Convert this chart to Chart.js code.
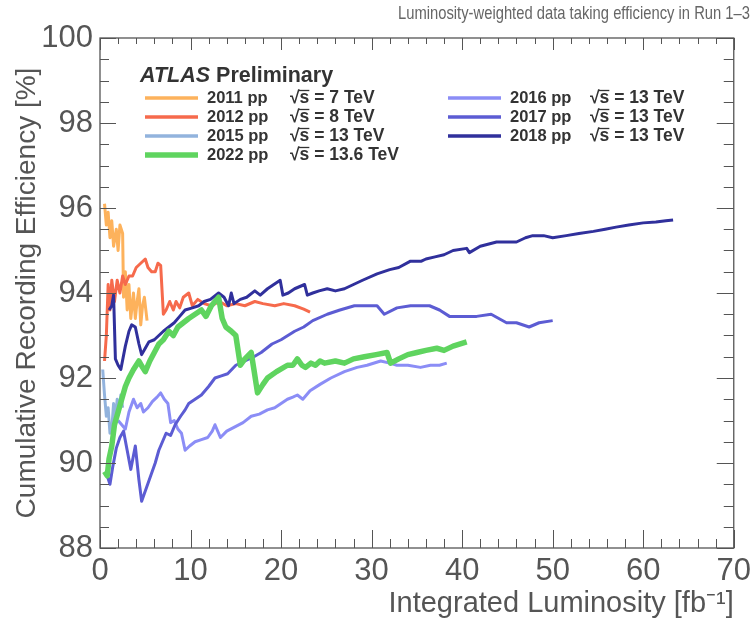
<!DOCTYPE html>
<html>
<head>
<meta charset="utf-8">
<script src="https://cdn.jsdelivr.net/npm/chart.js@4.4.1/dist/chart.umd.min.js"></script>
<style>
  html, body { margin: 0; padding: 0; background: #fff; }
</style>
</head>
<body>
<canvas id="effChart" width="756" height="639"></canvas>
<script>
// x: integrated luminosity [fb-1], y: cumulative recording efficiency [%]
const lumi2011 = [0.5, 0.7, 0.9, 1.1, 1.3, 1.5, 1.8, 2.0, 2.2, 2.5, 2.6, 2.8, 3.0, 3.2, 3.4, 3.6, 3.7, 3.9, 4.1, 4.3, 4.5, 4.7, 4.9, 5.2];
const eff2011  = [96.1, 95.6, 95.9, 95.3, 95.7, 95.1, 95.5, 95.0, 95.6, 95.4, 93.9, 94.5, 93.6, 94.2, 93.4, 93.8, 94.0, 93.4, 93.8, 94.1, 93.25, 93.7, 93.9, 93.35];

const lumi2012 = [0.5, 0.7, 0.9, 1.1, 1.3, 1.6, 1.9, 2.2, 2.5, 2.8, 3.2, 3.6, 4.0, 4.5, 5.0, 5.3, 5.7, 6.1, 6.4, 6.7, 7.0, 7.3, 7.7, 8.1, 8.4, 8.8, 9.2, 9.8, 10.2, 10.8, 11.5, 12.3, 13.2, 14.0, 15.0, 16.0, 17.1, 18.0, 19.3, 20.3, 21.5, 22.5, 23.2];
const eff2012  = [92.4, 93.0, 94.2, 93.6, 94.3, 93.8, 94.3, 94.0, 94.4, 94.2, 94.4, 94.4, 94.6, 94.7, 94.8, 94.6, 94.5, 94.5, 94.7, 94.65, 93.5, 93.6, 93.8, 93.6, 93.8, 93.65, 93.9, 94.0, 93.7, 93.85, 93.75, 93.7, 93.8, 93.7, 93.75, 93.7, 93.8, 93.75, 93.7, 93.75, 93.7, 93.62, 93.55];

const lumi2015 = [0.3, 0.5, 0.7, 0.9, 1.1, 1.3, 1.5, 1.7, 1.9, 2.1, 2.3, 2.5];
const eff2015  = [92.2, 91.6, 91.1, 91.3, 90.7, 90.8, 91.4, 91.0, 91.5, 91.2, 91.6, 91.3];

const lumi2022 = [0.5, 0.8, 1.0, 1.3, 1.6, 2.0, 2.4, 2.8, 3.2, 3.7, 4.3, 4.7, 5.0, 5.5, 6.0, 6.5, 7.0, 7.6, 8.1, 8.6, 9.2, 9.8, 10.5, 11.2, 11.7, 12.3, 13.1, 13.5, 13.9, 14.5, 15.0, 15.5, 16.0, 16.7, 17.0, 17.4, 18.0, 18.5, 19.5, 20.7, 21.3, 21.8, 22.3, 22.7, 23.3, 23.8, 24.3, 24.8, 26.0, 27.0, 28.0, 29.2, 30.5, 31.7, 32.1, 33.0, 34.0, 35.0, 36.0, 37.2, 38.0, 39.0, 40.5];
const eff2022  = [89.8, 89.7, 90.1, 90.4, 90.9, 91.2, 91.5, 91.8, 92.0, 92.2, 92.4, 92.25, 92.15, 92.4, 92.6, 92.8, 92.9, 93.1, 93.0, 93.2, 93.3, 93.4, 93.5, 93.6, 93.45, 93.7, 93.9, 93.4, 93.2, 93.1, 93.0, 92.3, 92.45, 92.6, 92.2, 91.65, 91.85, 92.0, 92.15, 92.3, 92.3, 92.45, 92.3, 92.25, 92.35, 92.3, 92.4, 92.35, 92.4, 92.35, 92.45, 92.5, 92.55, 92.6, 92.35, 92.45, 92.55, 92.6, 92.65, 92.7, 92.65, 92.75, 92.85];

const lumi2016 = [2.0, 2.4, 2.8, 3.2, 3.7, 4.1, 4.5, 4.8, 5.3, 5.8, 6.3, 6.7, 7.1, 7.5, 7.8, 8.2, 8.6, 9.0, 9.4, 9.9, 10.5, 11.2, 11.9, 12.4, 12.7, 13.3, 14.0, 14.9, 15.8, 16.7, 17.6, 18.5, 19.3, 20.0, 20.7, 21.3, 21.8, 22.4, 23.2, 24.3, 25.5, 27.0, 28.4, 29.5, 31.0, 32.0, 32.8, 34.0, 35.4, 36.5, 37.5, 38.3];
const eff2016  = [91.0, 90.9, 90.8, 91.2, 91.5, 91.3, 91.4, 91.2, 91.3, 91.45, 91.55, 91.65, 91.5, 91.4, 90.95, 91.0, 90.8, 90.7, 90.3, 90.4, 90.5, 90.55, 90.6, 90.75, 90.9, 90.6, 90.75, 90.85, 90.95, 91.1, 91.15, 91.25, 91.3, 91.4, 91.5, 91.55, 91.6, 91.5, 91.7, 91.85, 92.0, 92.15, 92.25, 92.3, 92.4, 92.35, 92.3, 92.3, 92.25, 92.3, 92.3, 92.35];

const lumi2017 = [0.8, 1.1, 1.4, 1.8, 2.2, 2.6, 3.0, 3.4, 3.9, 4.3, 4.6, 5.1, 5.6, 6.1, 6.5, 6.9, 7.3, 7.8, 8.3, 8.9, 9.4, 9.8, 10.5, 11.2, 12.0, 12.7, 13.4, 14.1, 15.0, 16.0, 17.0, 17.8, 19.0, 20.0, 21.5, 22.5, 23.5, 25.1, 26.5, 28.1, 29.5, 30.6, 31.4, 32.8, 34.3, 35.5, 36.4, 37.5, 38.6, 40.0, 41.6, 43.2, 44.9, 46.0, 47.4, 48.5, 50.0];
const eff2017  = [89.7, 89.5, 89.9, 90.35, 90.6, 90.75, 90.3, 89.85, 90.4, 89.6, 89.1, 89.4, 89.7, 90.0, 90.3, 90.5, 90.7, 90.65, 90.9, 91.1, 91.25, 91.4, 91.5, 91.6, 91.8, 92.0, 92.05, 92.1, 92.3, 92.4, 92.5, 92.6, 92.8, 92.9, 93.1, 93.2, 93.35, 93.5, 93.6, 93.7, 93.7, 93.7, 93.5, 93.65, 93.7, 93.7, 93.7, 93.6, 93.45, 93.45, 93.45, 93.5, 93.3, 93.3, 93.2, 93.3, 93.35];

const lumi2018 = [1.0, 1.3, 1.5, 1.7, 2.0, 2.3, 2.8, 3.2, 3.5, 3.9, 4.3, 4.6, 5.0, 5.4, 6.0, 6.5, 7.0, 7.6, 8.2, 8.8, 9.4, 10.2, 10.9, 11.5, 12.2, 13.1, 13.7, 14.2, 14.5, 14.8, 15.5, 16.2, 17.1, 17.7, 18.5, 19.2, 19.9, 20.2, 20.8, 21.5, 22.6, 22.9, 23.5, 24.2, 25.1, 26.0, 27.0, 28.0, 29.0, 30.6, 32.0, 33.0, 34.3, 35.5, 36.0, 37.0, 38.0, 39.0, 40.5, 40.8, 42.0, 43.8, 45.0, 46.0, 47.0, 47.8, 49.0, 50.0, 51.5, 52.9, 54.5, 55.8, 57.0, 58.4, 60.0, 61.4, 62.5, 63.3];
const eff2018  = [93.6, 93.7, 93.95, 92.45, 92.3, 92.2, 92.75, 93.1, 93.25, 93.2, 92.8, 92.55, 92.7, 92.85, 92.9, 93.0, 93.1, 93.2, 93.3, 93.45, 93.6, 93.65, 93.7, 93.8, 93.85, 94.0, 93.9, 93.7, 94.0, 93.75, 93.85, 93.9, 94.05, 93.95, 94.1, 94.2, 94.3, 93.95, 94.0, 94.1, 94.2, 93.95, 94.0, 94.05, 94.1, 94.05, 94.1, 94.2, 94.3, 94.45, 94.55, 94.6, 94.75, 94.75, 94.8, 94.85, 94.9, 95.0, 95.05, 94.95, 95.1, 95.2, 95.2, 95.2, 95.3, 95.35, 95.35, 95.3, 95.35, 95.4, 95.45, 95.5, 95.55, 95.6, 95.65, 95.67, 95.7, 95.72];

const runLabels = ['2011 pp', '2012 pp', '2015 pp', '2022 pp', '2016 pp', '2017 pp', '2018 pp'];
const energies  = ['7', '8', '13', '13.6', '13', '13', '13'];
const colors    = ['#fdb25c', '#f66a4c', '#92b3dd', '#5fd45f', '#8b8df6', '#5c5cd3', '#30309c'];
const widths    = [3, 3, 3, 5.5, 3, 3, 3];

const xTickValues = [0, 10, 20, 30, 40, 50, 60, 70];
const yTickValues = [88, 90, 92, 94, 96, 98, 100];

const allLumi = [lumi2011, lumi2012, lumi2015, lumi2022, lumi2016, lumi2017, lumi2018];
const allEff  = [eff2011, eff2012, eff2015, eff2022, eff2016, eff2017, eff2018];

const FONT = "'Liberation Sans', Arial, Helvetica, sans-serif";

function toPoints(xs, ys) {
  return xs.map((v, i) => ({ x: v, y: ys[i] }));
}

const datasets = runLabels.map((name, i) => ({
  label: name,
  data: toPoints(allLumi[i], allEff[i]),
  borderColor: colors[i],
  borderWidth: widths[i],
  pointRadius: 0,
  tension: 0,
  borderJoinStyle: 'round',
  fill: false,
  order: i === 3 ? 0 : 7 - i
}));

// ROOT-style box, inward ticks and in-plot legend
const atlasDecor = {
  id: 'atlasDecor',
  afterDraw(chart) {
    const { ctx, chartArea: a, scales: { x, y } } = chart;
    ctx.save();
    ctx.strokeStyle = '#555';
    ctx.lineWidth = 1.3;
    ctx.strokeRect(a.left, a.top, a.right - a.left, a.bottom - a.top);

    function seg(x1, y1, x2, y2) {
      ctx.beginPath();
      ctx.moveTo(x1, y1);
      ctx.lineTo(x2, y2);
      ctx.stroke();
    }
    ctx.lineWidth = 1;
    for (let v = x.min; v <= x.max; v += 2) {
      const px = Math.round(x.getPixelForValue(v)) + 0.5;
      const major = xTickValues.includes(v);
      seg(px, a.bottom, px, a.bottom - (major ? 18 : 9));
      seg(px, a.top, px, a.top + (major ? 12 : 6));
    }
    for (let v = y.min; v <= y.max; v += 0.5) {
      const py = Math.round(y.getPixelForValue(v)) + 0.5;
      const major = yTickValues.includes(v);
      seg(a.left, py, a.left + (major ? 16 : 9), py);
      seg(a.right, py, a.right - (major ? 17 : 10), py);
    }

    // legend
    ctx.fillStyle = '#333';
    ctx.textBaseline = 'middle';
    ctx.textAlign = 'left';
    ctx.font = 'italic bold 21.5px ' + FONT;
    ctx.fillText('ATLAS', 140, 76);
    const aw = ctx.measureText('ATLAS ').width;
    ctx.font = 'bold 21.5px ' + FONT;
    ctx.fillText('Preliminary', 140 + aw, 76);

    runLabels.forEach((name, i) => {
      const col = i < 4 ? 0 : 1;
      const row = col === 0 ? i : i - 4;
      const ly = 98 + row * 19;
      const lx = col === 0 ? 145 : 448;
      const tx = col === 0 ? 207 : 510;
      const sx = col === 0 ? 290 : 590;
      ctx.strokeStyle = colors[i];
      ctx.lineWidth = widths[i] === 3 ? 3.5 : 5.5;
      seg(lx, ly, lx + 53, ly);
      ctx.fillStyle = '#333';
      ctx.font = 'bold 16.5px ' + FONT;
      ctx.fillText(name, tx, ly);
      ctx.font = 'bold 17.5px ' + FONT;
      const sqrtStr = '\u221A';
      ctx.fillText(sqrtStr + 's = ' + energies[i] + ' TeV', sx, ly);
      const w0 = ctx.measureText(sqrtStr).width;
      const ws = ctx.measureText('s').width;
      ctx.strokeStyle = '#333';
      ctx.lineWidth = 1.3;
      seg(sx + w0 - 1, ly - 7.5, sx + w0 + ws, ly - 7.5);
    });

    // run title, squeezed to the width of the original
    const titleText = 'Luminosity-weighted data taking efficiency in Run 1\u20133';
    ctx.fillStyle = '#666';
    ctx.textAlign = 'left';
    ctx.font = '19px ' + FONT;
    const tw = ctx.measureText(titleText).width;
    const sq = 352 / tw;
    ctx.translate(398, 14);
    ctx.scale(sq, 1);
    ctx.fillText(titleText, 0, 0);
    ctx.restore();
  }
};

new Chart(document.getElementById('effChart'), {
  type: 'line',
  data: { datasets: datasets },
  options: {
    responsive: false,
    animation: false,
    layout: { padding: { top: 38, right: 18, left: 0, bottom: 0 } },
    plugins: {
      legend: { display: false },
      tooltip: { enabled: false }
    },
    scales: {
      x: {
        type: 'linear',
        min: 0,
        max: 70,
        afterFit(scale) { scale.height = 91; },
        afterBuildTicks(scale) { scale.ticks = xTickValues.map(v => ({ value: v })); },
        grid: { display: false, drawTicks: false },
        border: { display: false },
        ticks: { color: '#555', padding: 5, font: { family: FONT, size: 31 }, maxRotation: 0 },
        title: {
          display: true,
          text: 'Integrated Luminosity [fb\u207B\u00B9]',
          align: 'end',
          color: '#555',
          font: { family: FONT, size: 29 },
          padding: { top: 0, bottom: 18 }
        }
      },
      y: {
        type: 'linear',
        min: 88,
        max: 100,
        afterFit(scale) { scale.width = 100; },
        afterBuildTicks(scale) { scale.ticks = yTickValues.map(v => ({ value: v })); },
        grid: { display: false, drawTicks: false },
        border: { display: false },
        ticks: { color: '#555', padding: 7, font: { family: FONT, size: 31 } },
        title: {
          display: true,
          text: 'Cumulative Recording Efficiency [%]',
          color: '#555',
          font: { family: FONT, size: 28 },
          padding: { top: 10, bottom: 0 }
        }
      }
    }
  },
  plugins: [atlasDecor]
});
</script>
</body>
</html>
